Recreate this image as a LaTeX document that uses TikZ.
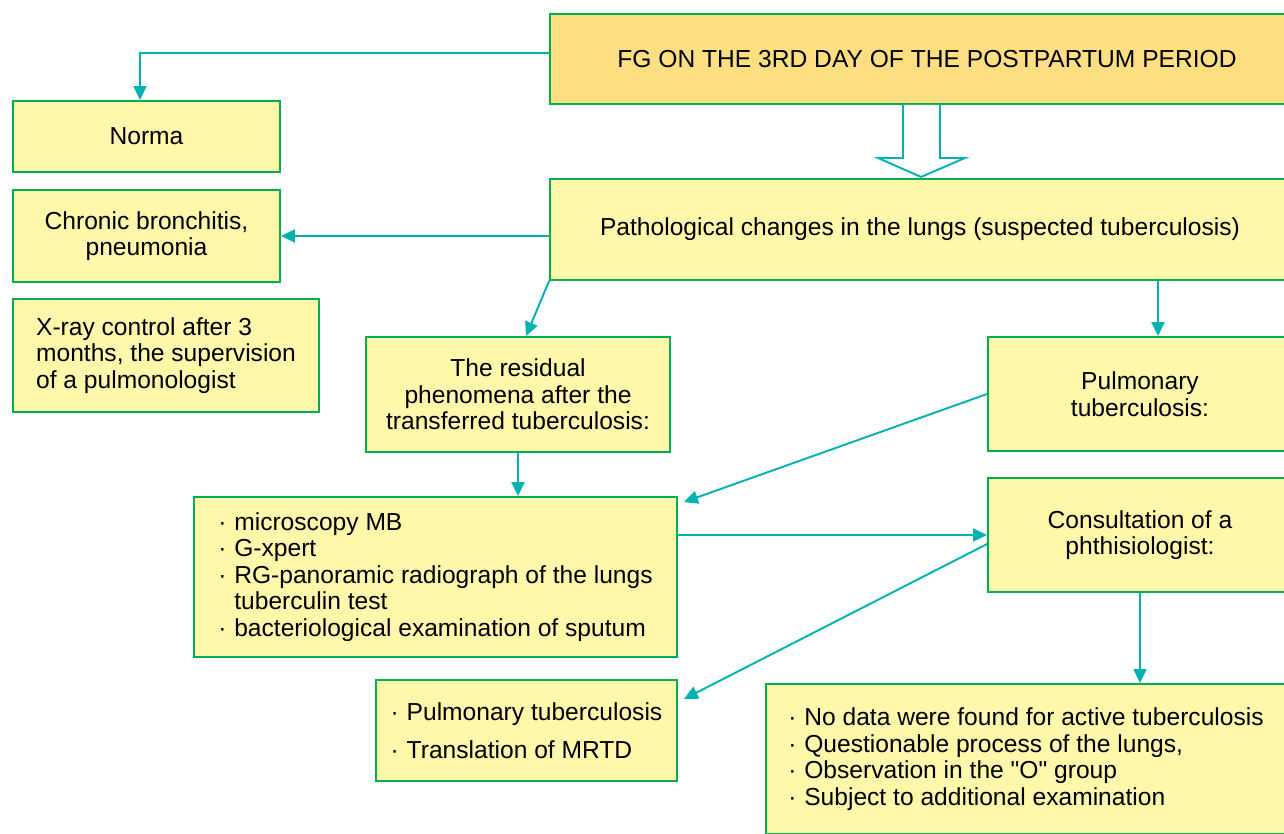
\documentclass[tikz,border=0pt]{standalone}
\usepackage{fontspec}
\setmainfont{Liberation Sans}
\usepackage{xcolor}
\usetikzlibrary{arrows.meta, positioning}

\definecolor{boxfill}{RGB}{255,248,170}
\definecolor{headfill}{RGB}{253,223,130}
\definecolor{boxline}{RGB}{0,176,80}
\definecolor{arrowteal}{RGB}{0,178,178}
\newcommand{\bul}{\makebox[0.32cm][l]{·}}

\begin{document}
\begin{tikzpicture}[x=0.02cm, y=-0.02cm,
    box/.style={rectangle, draw=boxline, fill=boxfill, line width=1.1pt, align=center, font=\fontsize{14}{15.1}\selectfont},
    headbox/.style={box, fill=headfill},
    listbox/.style={box, align=left},
    line/.style={draw=arrowteal, line width=1.1pt, -{Triangle[length=2.8mm, width=2.6mm]}},
    blockarrow/.style={draw=arrowteal, line width=1.1pt, fill=white}
]
    \clip (0,0) rectangle (1284,833);

    % Top: examination
    \node[headbox, minimum width=15.08cm, minimum height=1.8cm] (fg) at (927,59) {FG ON THE 3RD DAY OF THE POSTPARTUM PERIOD};

    % Left column
    \node[box, minimum width=5.34cm, minimum height=1.42cm] (norma) at (146.5,136.5) {Norma};
    \node[box, minimum width=5.34cm, minimum height=1.84cm] (chronic) at (146.5,236) {Chronic bronchitis,\\ pneumonia};
    \node[listbox, minimum width=6.12cm, minimum height=2.26cm] (xray) at (166,355.5) {X-ray control after 3\\ months, the supervision\\ of a pulmonologist};

    % Findings
    \node[box, minimum width=14.8cm, minimum height=2.02cm] (patho) at (920,229.5) {Pathological changes in the lungs (suspected tuberculosis)};
    \node[box, minimum width=6.08cm, minimum height=2.3cm] (resid) at (518,394.5) {The residual\\ phenomena after the\\ transferred tuberculosis:};
    \node[box, minimum width=6.08cm, minimum height=2.28cm] (pulm) at (1140,394) {Pulmonary\\ tuberculosis:};

    % Examination and consultation
    \node[listbox, minimum width=9.66cm, minimum height=3.2cm] (tests) at (435.5,577) {\bul microscopy MB\\ \bul G-xpert\\ \bul RG-panoramic radiograph of the lungs\\ \hspace*{0.32cm}tuberculin test\\ \bul bacteriological examination of sputum};
    \node[box, minimum width=6.08cm, minimum height=2.28cm] (consult) at (1140,535) {Consultation of a\\ phthisiologist:};

    % Outcomes
    \node[listbox, minimum width=6.02cm, minimum height=2.02cm] (lowl) at (526.5,730.5) {\bul Pulmonary tuberculosis\\[0.22cm] \bul Translation of MRTD};
    \node[listbox, minimum width=10.4cm, minimum height=3.0cm] (lowr) at (1026,759) {\bul No data were found for active tuberculosis\\ \bul Questionable process of the lungs,\\ \bul Observation in the \textquotedbl O\textquotedbl{} group\\ \bul Subject to additional examination};

    % Connectors
    \draw[line] ([yshift=0.12cm]fg.west) -| ([xshift=-0.13cm]norma.north);
    \draw[blockarrow] ([xshift=-0.48cm]fg.south) -- ++(0,53) -- ++(-25,0) -- ++(43,19) -- ++(44,-19) -- ++(-25,0) -- ++(0,-53);
    \draw[line] (patho.west |- chronic.east) -- (chronic.east);
    \draw[line] (patho.south west) -- ([xshift=0.16cm]resid.north);
    \draw[line] ([xshift=0.36cm]pulm.north |- patho.south) -- ([xshift=0.36cm]pulm.north);
    \draw[line] (resid.south) -- (resid.south |- tests.north);
    \draw[line] (pulm.west) -- ([xshift=0.12cm, yshift=-0.12cm]tests.north east);
    \draw[line] (tests.east |- consult.west) -- (consult.west);
    \draw[line] ([yshift=-0.18cm]consult.west) -- ([xshift=0.12cm, yshift=-0.4cm]lowl.north east);
    \draw[line] (consult.south) -- (consult.south |- lowr.north);
\end{tikzpicture}
\end{document}
